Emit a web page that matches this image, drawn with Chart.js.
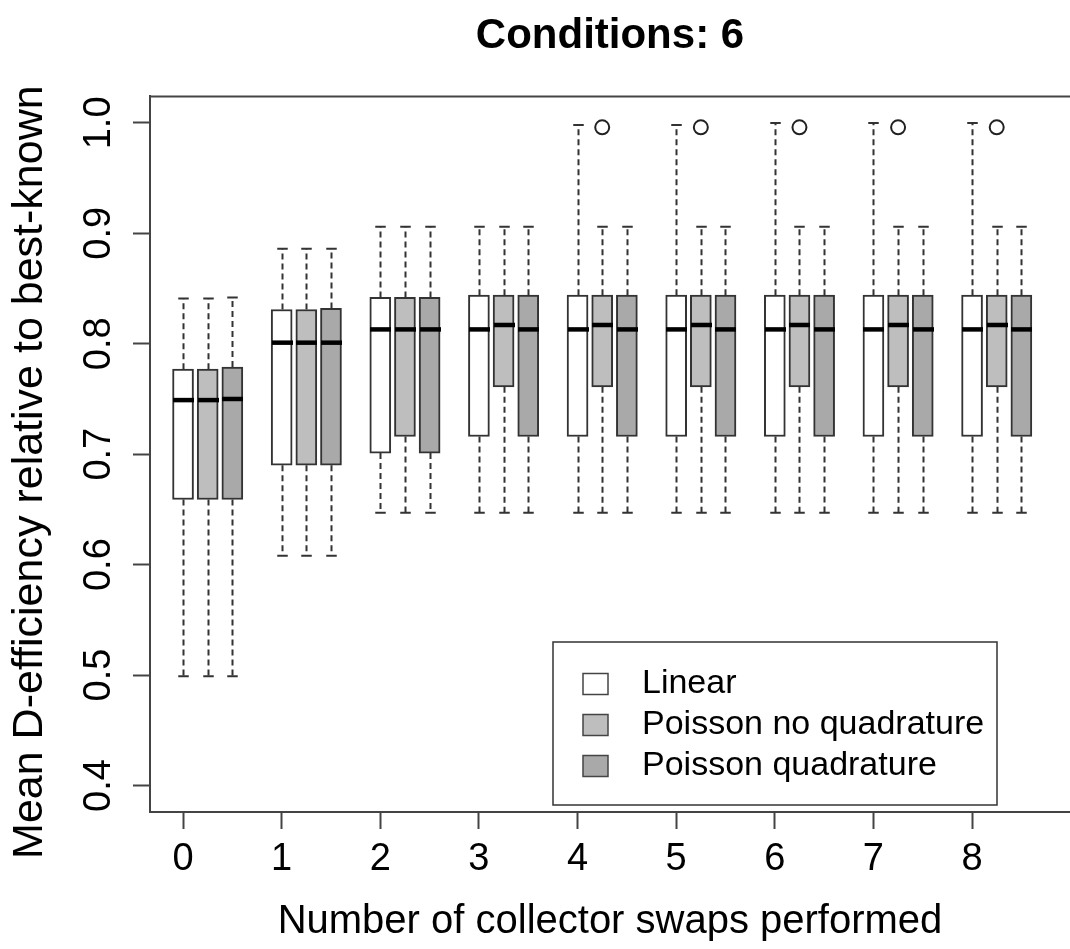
<!DOCTYPE html>
<html>
<head>
<meta charset="utf-8">
<title>Conditions: 6</title>
<script src="https://cdn.jsdelivr.net/npm/chart.js@4/dist/chart.umd.min.js"></script>
<style>
  html, body { margin: 0; padding: 0; background: #fff; }
  #wrap { width: 1070px; height: 949px; }
</style>
</head>
<body>
<div id="wrap"><canvas id="chart"></canvas></div>
<script>
// groups on the x axis
const swaps = [0, 1, 2, 3, 4, 5, 6, 7, 8];
const seriesNames = ["Linear", "Poisson no quadrature", "Poisson quadrature"];
const yTicks = [0.4, 0.5, 0.6, 0.7, 0.8, 0.9, 1.0];

// box statistics
const linearLow = [0.499, 0.608, 0.647, 0.647, 0.647, 0.647, 0.647, 0.647, 0.647];
const linearQ1  = [0.659, 0.690, 0.701, 0.716, 0.716, 0.716, 0.716, 0.716, 0.716];
const linearMed = [0.749, 0.801, 0.813, 0.813, 0.813, 0.813, 0.813, 0.813, 0.813];
const linearQ3  = [0.777, 0.831, 0.842, 0.844, 0.844, 0.844, 0.844, 0.844, 0.844];
const linearHigh = [0.841, 0.886, 0.906, 0.906, 0.998, 0.998, 1.000, 1.000, 1.000];

const noQuadLow = [0.499, 0.608, 0.647, 0.647, 0.647, 0.647, 0.647, 0.647, 0.647];
const noQuadQ1  = [0.659, 0.690, 0.716, 0.761, 0.761, 0.761, 0.761, 0.761, 0.761];
const noQuadMed = [0.749, 0.801, 0.813, 0.817, 0.817, 0.817, 0.817, 0.817, 0.817];
const noQuadQ3  = [0.777, 0.831, 0.842, 0.844, 0.844, 0.844, 0.844, 0.844, 0.844];
const noQuadHigh = [0.841, 0.886, 0.906, 0.906, 0.906, 0.906, 0.906, 0.906, 0.906];

const quadLow = [0.499, 0.608, 0.647, 0.647, 0.647, 0.647, 0.647, 0.647, 0.647];
const quadQ1  = [0.659, 0.690, 0.701, 0.716, 0.716, 0.716, 0.716, 0.716, 0.716];
const quadMed = [0.750, 0.801, 0.813, 0.813, 0.813, 0.813, 0.813, 0.813, 0.813];
const quadQ3  = [0.779, 0.832, 0.842, 0.844, 0.844, 0.844, 0.844, 0.844, 0.844];
const quadHigh = [0.842, 0.886, 0.906, 0.906, 0.906, 0.906, 0.906, 0.906, 0.906];

// outliers (all in the "Poisson no quadrature" series)
const outlierSwaps = [4, 5, 6, 7, 8];
const outlierValues = [0.996, 0.996, 0.996, 0.996, 0.996];

const stats = [
    { low: linearLow, q1: linearQ1, med: linearMed, q3: linearQ3, high: linearHigh },
    { low: noQuadLow, q1: noQuadQ1, med: noQuadMed, q3: noQuadQ3, high: noQuadHigh },
    { low: quadLow, q1: quadQ1, med: quadMed, q3: quadQ3, high: quadHigh }
];

const fills = ["#ffffff", "#bebebe", "#a9a9a9"];
const seriesOffset = [0, 0.25, 0.5]; // boxes sit side by side inside a group
const boxPx = 21;
const ink = "#333333";

Chart.defaults.font.family = "'Liberation Sans', Arial, Helvetica, sans-serif";
Chart.defaults.color = "#000";

const datasets = stats.map((s, k) => ({
    type: "bar",
    label: seriesNames[k],
    data: swaps.map((g, i) => ({ x: g + seriesOffset[k], y: [s.q1[i], s.q3[i]] })),
    backgroundColor: fills[k],
    borderColor: ink,
    borderWidth: 2,
    borderSkipped: false,
    barThickness: boxPx,
    grouped: false
}));

datasets.push({
    type: "scatter",
    label: "outliers",
    data: outlierSwaps.map((g, i) => ({ x: g + seriesOffset[1], y: outlierValues[i] })),
    pointStyle: "circle",
    pointRadius: 7,
    borderWidth: 2,
    borderColor: "#222",
    backgroundColor: "rgba(0,0,0,0)"
});

// whiskers, staples and medians
const boxExtras = {
    id: "boxExtras",
    afterDatasetsDraw(chart) {
        const { ctx, scales: { x, y } } = chart;
        ctx.save();
        stats.forEach((s, k) => {
            swaps.forEach((g, i) => {
                const cx = Math.round(x.getPixelForValue(g + seriesOffset[k])) + 0.5;
                const yLow = y.getPixelForValue(s.low[i]);
                const yQ1 = y.getPixelForValue(s.q1[i]);
                const yQ3 = y.getPixelForValue(s.q3[i]);
                const yHigh = y.getPixelForValue(s.high[i]);
                ctx.strokeStyle = ink;
                ctx.lineWidth = 2;
                ctx.setLineDash([6, 4]);
                ctx.beginPath();
                ctx.moveTo(cx, yQ3); ctx.lineTo(cx, yHigh);
                ctx.moveTo(cx, yQ1); ctx.lineTo(cx, yLow);
                ctx.stroke();
                ctx.setLineDash([]);
                ctx.beginPath();
                ctx.moveTo(cx - boxPx / 4, yHigh); ctx.lineTo(cx + boxPx / 4, yHigh);
                ctx.moveTo(cx - boxPx / 4, yLow); ctx.lineTo(cx + boxPx / 4, yLow);
                ctx.stroke();
                // median
                const yMed = y.getPixelForValue(s.med[i]);
                ctx.strokeStyle = "#000";
                ctx.lineWidth = 4.5;
                ctx.beginPath();
                ctx.moveTo(cx - boxPx / 2, yMed); ctx.lineTo(cx + boxPx / 2, yMed);
                ctx.stroke();
            });
        });
        ctx.restore();
    },
    afterDraw(chart) {
        const { ctx, chartArea: a } = chart;
        ctx.save();
        // top edge of the plot box (the right edge is cut off in the original)
        ctx.strokeStyle = "#444";
        ctx.lineWidth = 2;
        ctx.beginPath();
        ctx.moveTo(a.left, a.top);
        ctx.lineTo(chart.width, a.top);
        ctx.stroke();

        // legend
        const lx = 553, ly = 642, lw = 444, lh = 163;
        ctx.fillStyle = "#fff";
        ctx.fillRect(lx, ly, lw, lh);
        ctx.strokeStyle = "#333";
        ctx.lineWidth = 1.5;
        ctx.strokeRect(lx, ly, lw, lh);
        ctx.font = "34px 'Liberation Sans', Arial, sans-serif";
        ctx.textBaseline = "middle";
        ctx.textAlign = "left";
        seriesNames.forEach((name, k) => {
            const rowY = ly + 42 + k * 41;
            ctx.fillStyle = fills[k];
            ctx.fillRect(lx + 30, rowY - 10.5, 25, 21);
            ctx.strokeStyle = "#444";
            ctx.lineWidth = 1.5;
            ctx.strokeRect(lx + 30, rowY - 10.5, 25, 21);
            ctx.fillStyle = "#000";
            ctx.fillText(name, lx + 89, rowY);
        });
        ctx.restore();
    }
};

new Chart(document.getElementById("chart"), {
    type: "bar",
    data: { datasets: datasets },
    options: {
        responsive: true,
        maintainAspectRatio: false,
        animation: false,
        layout: { autoPadding: false, padding: 0 },
        plugins: {
            legend: { display: false },
            tooltip: { enabled: false },
            title: {
                display: true,
                text: "Conditions: 6",
                fullSize: false,
                color: "#000",
                font: { size: 42, weight: "bold" },
                padding: { top: 11, bottom: 35 }
            }
        },
        scales: {
            x: {
                type: "linear",
                min: -0.335,
                max: 8.993,
                offset: false,
                afterBuildTicks: (scale) => { scale.ticks = swaps.map(v => ({ value: v })); },
                afterFit: (scale) => {
                    scale.height = 137;
                    scale.paddingLeft = 0;
                    scale.paddingRight = 0;
                },
                ticks: {
                    autoSkip: false,
                    maxRotation: 0,
                    padding: 8,
                    color: "#000",
                    font: { size: 38 },
                    callback: (v) => String(v)
                },
                grid: {
                    offset: false,
                    drawOnChartArea: false,
                    drawTicks: true,
                    tickLength: 17,
                    tickWidth: 2,
                    tickColor: "#444"
                },
                border: { display: true, color: "#444", width: 2 },
                title: {
                    display: true,
                    text: "Number of collector swaps performed",
                    color: "#000",
                    font: { size: 40 },
                    padding: { top: 0, bottom: 3 }
                }
            },
            y: {
                min: 0.376,
                max: 1.024,
                afterBuildTicks: (scale) => { scale.ticks = yTicks.map(v => ({ value: v })); },
                afterFit: (scale) => { scale.width = 150; },
                ticks: {
                    autoSkip: false,
                    minRotation: 90,
                    maxRotation: 90,
                    crossAlign: "center",
                    padding: 7,
                    color: "#000",
                    font: { size: 38 },
                    callback: (v) => v.toFixed(1)
                },
                grid: {
                    drawOnChartArea: false,
                    drawTicks: true,
                    tickLength: 17,
                    tickWidth: 2,
                    tickColor: "#444"
                },
                border: { display: true, color: "#444", width: 2 },
                title: {
                    display: true,
                    // trailing spaces nudge the label down like the original
                    text: "Mean D-efficiency relative to best-known   ",
                    color: "#000",
                    font: { size: 43 },
                    padding: { top: 4, bottom: 0 }
                }
            }
        }
    },
    plugins: [boxExtras]
});
</script>
</body>
</html>
